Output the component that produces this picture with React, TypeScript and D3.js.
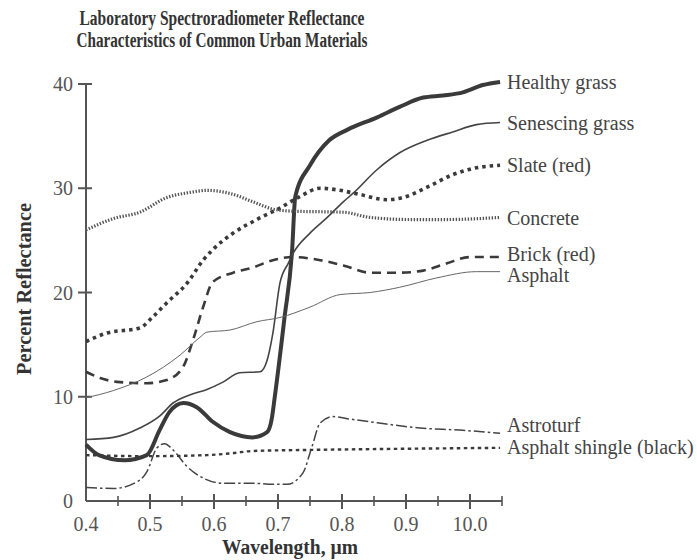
import * as d3 from "d3";
import { useEffect, useRef } from "react";

// wavelength (µm), percent reflectance
const healthyGrass: [number, number][] = [
  [0.4, 5.4], [0.42, 4.4], [0.46, 3.9], [0.495, 4.4], [0.515, 6.8], [0.53, 8.5], [0.552, 9.4],
  [0.573, 9.0], [0.598, 7.6], [0.625, 6.6], [0.66, 6.1], [0.683, 6.6], [0.69, 7.8], [0.695, 10],
  [0.71, 17.5], [0.722, 24], [0.727, 29.2], [0.75, 32.2], [0.78, 34.6], [0.808, 35.6],
  [0.855, 36.8], [0.89, 37.8], [0.927, 38.7], [0.958, 38.9], [0.989, 39.2], [1.02, 39.9], [1.047, 40.2],
];
const senescingGrass: [number, number][] = [
  [0.4, 5.9], [0.443, 6.1], [0.484, 7.0], [0.516, 8.2], [0.536, 9.4], [0.563, 10.2], [0.589, 10.7],
  [0.614, 11.4], [0.64, 12.3], [0.672, 12.4], [0.683, 13.5], [0.692, 16.1], [0.703, 20.9],
  [0.716, 22.8], [0.724, 23.8], [0.75, 25.7], [0.777, 27.2], [0.802, 28.7], [0.817, 29.5],
  [0.855, 31.8], [0.89, 33.4], [0.933, 34.6], [0.973, 35.4], [1.01, 36.1], [1.047, 36.3],
];
const slate: [number, number][] = [
  [0.4, 15.3], [0.432, 16.1], [0.484, 16.6], [0.505, 17.7], [0.526, 19.0], [0.558, 20.9],
  [0.583, 23.1], [0.598, 24.1], [0.63, 25.7], [0.667, 27.0], [0.703, 28.1], [0.734, 29.2],
  [0.766, 30.0], [0.797, 29.8], [0.828, 29.4], [0.87, 28.9], [0.895, 29.1], [0.933, 30.1],
  [0.973, 31.3], [1.005, 31.9], [1.047, 32.2],
];
const concrete: [number, number][] = [
  [0.4, 26.0], [0.443, 27.1], [0.484, 27.7], [0.526, 29.1], [0.563, 29.6], [0.589, 29.8],
  [0.625, 29.5], [0.661, 28.7], [0.692, 28.0], [0.723, 27.8], [0.802, 27.7], [0.844, 27.2],
  [0.906, 27.0], [0.964, 27.0], [1.047, 27.2],
];
const brick: [number, number][] = [
  [0.4, 12.4], [0.422, 11.8], [0.453, 11.4], [0.495, 11.3], [0.526, 11.6], [0.552, 12.9],
  [0.567, 15.4], [0.583, 18.6], [0.598, 21.0], [0.63, 21.9], [0.661, 22.4], [0.692, 23.1],
  [0.723, 23.4], [0.766, 23.1], [0.802, 22.6], [0.844, 21.9], [0.89, 21.9], [0.927, 22.1],
  [0.964, 22.8], [1.0, 23.4], [1.047, 23.4],
];
const asphalt: [number, number][] = [
  [0.4, 9.9], [0.443, 10.6], [0.495, 11.9], [0.547, 14.0], [0.578, 15.7], [0.589, 16.2],
  [0.625, 16.4], [0.667, 17.2], [0.703, 17.6], [0.75, 18.6], [0.797, 19.8], [0.844, 20.0],
  [0.89, 20.5], [0.948, 21.4], [1.01, 22.0], [1.047, 22.0],
];
const astroturf: [number, number][] = [
  [0.4, 1.3], [0.443, 1.2], [0.484, 2.0], [0.495, 2.8], [0.511, 5.1], [0.523, 5.5], [0.536, 4.9],
  [0.558, 3.3], [0.583, 2.2], [0.614, 1.7], [0.661, 1.7], [0.692, 1.6], [0.714, 1.6], [0.739, 2.7],
  [0.753, 5.2], [0.766, 7.5], [0.786, 8.1], [0.808, 7.9], [0.855, 7.5], [0.922, 7.0],
  [0.984, 6.8], [1.047, 6.5],
];
const shingle: [number, number][] = [
  [0.4, 4.4], [0.495, 4.3], [0.589, 4.4], [0.63, 4.6], [0.661, 4.8], [0.75, 4.9], [0.88, 5.0], [1.047, 5.1],
];

const xMajorTicks = [0.4, 0.5, 0.6, 0.7, 0.8, 0.9, 1.0];
const xTickLabels = ["0.4", "0.5", "0.6", "0.7", "0.8", "0.9", "10.0"];
const xMinorTicks = [0.45, 0.55, 0.65, 0.75, 0.85, 0.95, 1.05];
const yTicks = [0, 10, 20, 30, 40];

const series = [
  { name: "Healthy grass", data: healthyGrass, width: 4, dash: null, color: "#3a3a3a", nudge: 0 },
  { name: "Senescing grass", data: senescingGrass, width: 1.6, dash: null, color: "#444", nudge: 0 },
  { name: "Slate (red)", data: slate, width: 3.6, dash: "3.5,4", color: "#3a3a3a", nudge: 0 },
  { name: "Concrete", data: concrete, width: 3.2, dash: "1.4,1.6", color: "#555", nudge: 1 },
  { name: "Brick (red)", data: brick, width: 2.6, dash: "9,6", color: "#3a3a3a", nudge: -3 },
  { name: "Asphalt", data: asphalt, width: 1, dash: null, color: "#666", nudge: 3 },
  { name: "Astroturf", data: astroturf, width: 1.5, dash: "11,3,2.5,3", color: "#444", nudge: -8 },
  { name: "Asphalt shingle (black)", data: shingle, width: 2.4, dash: "3.5,3.5", color: "#3a3a3a", nudge: -1 },
];

const App = () => {
  const svgRef = useRef<SVGSVGElement>(null);

  useEffect(() => {
    if (!svgRef.current) return;
    const svg = d3.select(svgRef.current);
    svg.selectAll("*").remove();

    const x = d3.scaleLinear().domain([0.4, 1.05]).range([86, 502]);
    const y = d3.scaleLinear().domain([0, 40]).range([501, 84]);
    const axisColor = "#555";
    const font = "'Liberation Serif', 'Times New Roman', serif";

    svg.append("rect").attr("width", 697).attr("height", 560).attr("fill", "#fff");

    // title (the printed face is condensed, so squeeze to the measured widths)
    const titleLine = (txt: string, yPos: number, len: number) =>
      svg.append("text")
        .attr("x", 222 - len / 2)
        .attr("y", yPos)
        .attr("textLength", len)
        .attr("lengthAdjust", "spacingAndGlyphs")
        .attr("font-family", font)
        .attr("font-weight", "bold")
        .attr("font-size", 20.5)
        .attr("fill", "#333")
        .text(txt);
    titleLine("Laboratory Spectroradiometer Reflectance", 25, 285);
    titleLine("Characteristics of Common Urban Materials", 47, 291);

    // axes lines
    svg.append("line")
      .attr("x1", x(0.4)).attr("x2", x(0.4))
      .attr("y1", y(0)).attr("y2", y(40))
      .attr("stroke", axisColor).attr("stroke-width", 2);
    svg.append("line")
      .attr("x1", x(0.4)).attr("x2", x(1.05))
      .attr("y1", y(0)).attr("y2", y(0))
      .attr("stroke", axisColor).attr("stroke-width", 2);

    // y ticks
    yTicks.forEach(t => {
      if (t > 0) {
        svg.append("line")
          .attr("x1", x(0.4) - 8).attr("x2", x(0.4) + 6)
          .attr("y1", y(t)).attr("y2", y(t))
          .attr("stroke", axisColor).attr("stroke-width", 2);
      }
      svg.append("text")
        .attr("x", x(0.4) - 13)
        .attr("y", y(t))
        .attr("dy", "0.35em")
        .attr("text-anchor", "end")
        .attr("font-family", font)
        .attr("font-size", 20)
        .attr("fill", "#555")
        .text(t);
    });

    // x ticks
    xMajorTicks.forEach((t, i) => {
      if (i > 0) {
        svg.append("line")
          .attr("x1", x(t)).attr("x2", x(t))
          .attr("y1", y(0) - 7).attr("y2", y(0) + 8)
          .attr("stroke", axisColor).attr("stroke-width", 2);
      }
      svg.append("text")
        .attr("x", x(t))
        .attr("y", 531)
        .attr("text-anchor", "middle")
        .attr("font-family", font)
        .attr("font-size", 20)
        .attr("fill", "#555")
        .text(xTickLabels[i]);
    });
    xMinorTicks.forEach(t => {
      svg.append("line")
        .attr("x1", x(t)).attr("x2", x(t))
        .attr("y1", y(0) - 5).attr("y2", y(0) + 5)
        .attr("stroke", axisColor).attr("stroke-width", 1.6);
    });

    // axis titles
    svg.append("text")
      .attr("transform", "translate(31,375) rotate(-90)")
      .attr("textLength", 172)
      .attr("lengthAdjust", "spacingAndGlyphs")
      .attr("font-family", font)
      .attr("font-weight", "bold")
      .attr("font-size", 20)
      .attr("fill", "#333")
      .text("Percent Reflectance");
    svg.append("text")
      .attr("x", 222)
      .attr("y", 554)
      .attr("textLength", 136)
      .attr("lengthAdjust", "spacingAndGlyphs")
      .attr("font-family", font)
      .attr("font-weight", "bold")
      .attr("font-size", 20)
      .attr("fill", "#333")
      .text("Wavelength, µm");

    // lines
    const line = d3.line<[number, number]>()
      .x(d => x(d[0]))
      .y(d => y(d[1]))
      .curve(d3.curveMonotoneX);

    series.forEach(s => {
      svg.append("path")
        .datum(s.data)
        .attr("d", line)
        .attr("fill", "none")
        .attr("stroke", s.color)
        .attr("stroke-width", s.width)
        .attr("stroke-dasharray", s.dash)
        .attr("stroke-linejoin", "round");

      const last = s.data[s.data.length - 1];
      svg.append("text")
        .attr("x", 507)
        .attr("y", y(last[1]) + s.nudge)
        .attr("dy", "0.35em")
        .attr("font-family", font)
        .attr("font-size", 20)
        .attr("fill", "#444")
        .text(s.name);
    });
  }, []);

  return (
    <svg
      ref={svgRef}
      width={697}
      height={560}
      style={{ position: "absolute", left: 0, top: 0 }}
    />
  );
};

export default App;
